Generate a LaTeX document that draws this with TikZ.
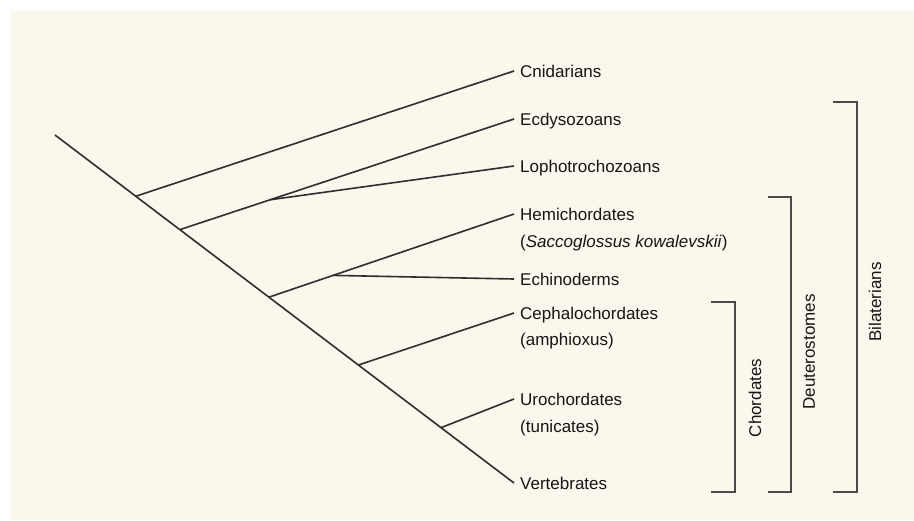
\documentclass[tikz,border=0pt]{standalone}
\usepackage{fontspec}
\setmainfont{Liberation Sans}
\usetikzlibrary{calc}
\definecolor{bg}{HTML}{FAF7ED}
\definecolor{ln}{HTML}{2E2E2E}
\definecolor{br}{HTML}{4A4A4A}
\definecolor{tx}{HTML}{151515}
\begin{document}
\begin{tikzpicture}[x=1pt,y=-1pt,
  tree/.style={draw=ln, line width=1.6pt},
  brk/.style={draw=br, line width=1.8pt},
  lbl/.style={anchor=base west, inner xsep=6pt, inner ysep=0pt, text height=12pt, text depth=0pt, font=\fontsize{17}{20}\selectfont, text=tx},
  grp/.style={rotate=90, inner sep=0pt, font=\fontsize{17}{20}\selectfont, text=tx}]
\useasboundingbox (0,0) rectangle (914,520);
\fill[white] (0,0) rectangle (914,520);
\fill[bg] (11,11) rectangle (914,520);

% labels
\node[lbl] (cni) at (514,77) {Cnidarians};
\node[lbl] (ecd) at (514,125) {Ecdysozoans};
\node[lbl] (lop) at (514,172) {Lophotrochozoans};
\node[lbl] (hem) at (514,220) {Hemichordates};
\node[lbl] (hem2) at (514,247) {(\textit{Saccoglossus kowalevskii})};
\node[lbl] (ech) at (514,285) {Echinoderms};
\node[lbl] (cep) at (514,319) {Cephalochordates};
\node[lbl] (cep2) at (514,345) {(amphioxus)};
\node[lbl] (uro) at (514,405) {Urochordates};
\node[lbl] (uro2) at (514,432) {(tunicates)};
\node[lbl] (ver) at (514,489) {Vertebrates};

% tree
\coordinate (root) at (55,135);
\draw[tree] (root) -- (ver.west);
\coordinate (b1) at ($(root)!0.176!(ver.west)$);
\coordinate (b2) at ($(root)!0.272!(ver.west)$);
\coordinate (b3) at ($(root)!0.466!(ver.west)$);
\coordinate (b4) at ($(root)!0.661!(ver.west)$);
\coordinate (b5) at ($(root)!0.841!(ver.west)$);
\draw[tree] (b1) -- (cni.west);
\draw[tree] (b2) -- (ecd.west);
\coordinate (b2a) at ($(b2)!0.27!(ecd.west)$);
\draw[tree] (b2a) -- (lop.west);
\draw[tree] (b3) -- (hem.west);
\coordinate (b3a) at ($(b3)!0.262!(hem.west)$);
\draw[tree] (b3a) -- (ech.west);
\draw[tree] (b4) -- (cep.west);
\draw[tree] (b5) -- (uro.west);

% brackets
\draw[brk] (711,302) -- (735,302) -- (735,492) -- (711,492);
\node[grp] (chd) at (755,398) {Chordates};
\draw[brk] (768,197) -- (791,197) -- (791,492) -- (768,492);
\node[grp] (deu) at (809,352) {Deuterostomes};
\draw[brk] (833,102) -- (857,102) -- (857,492) -- (833,492);
\node[grp] (bil) at (875,302) {Bilaterians};
\end{tikzpicture}
\end{document}
